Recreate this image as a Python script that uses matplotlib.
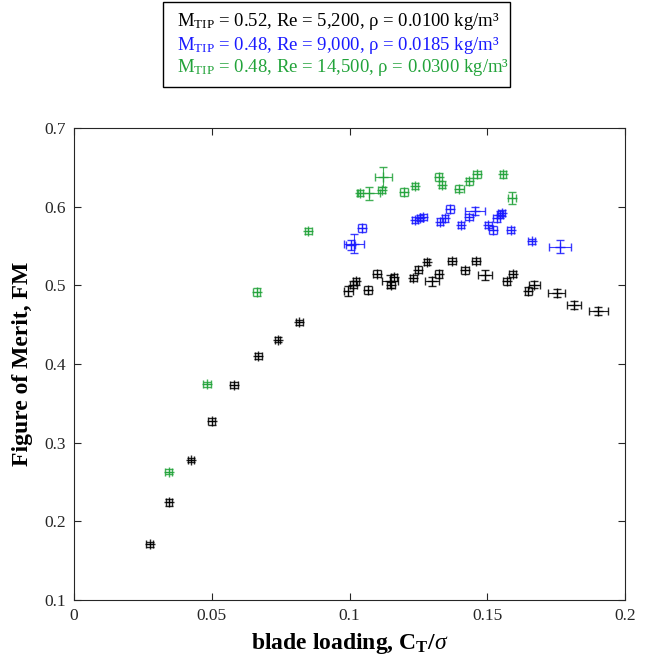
import numpy as np
import matplotlib
matplotlib.use("Agg")
import matplotlib.pyplot as plt
from matplotlib.patches import Rectangle

plt.rcParams['font.family'] = ['Liberation Serif', 'DejaVu Serif']
plt.rcParams['mathtext.fontset'] = 'custom'
plt.rcParams['mathtext.rm'] = 'Liberation Serif'
plt.rcParams['mathtext.it'] = 'Liberation Serif:italic'
plt.rcParams['mathtext.bf'] = 'Liberation Serif:bold'

# M_TIP = 0.52, Re = 5,200
ct_black = [0.0275, 0.0345, 0.0425, 0.0500, 0.0582, 0.0669, 0.0739, 0.0818,
            0.0996, 0.1014, 0.1024, 0.1068, 0.1101, 0.1147, 0.1150, 0.1162,
            0.1232, 0.1250, 0.1280, 0.1300, 0.1323, 0.1373, 0.1419, 0.1458,
            0.1492, 0.1570, 0.1592, 0.1649, 0.1670, 0.1752, 0.1815, 0.1903]
fm_black = [0.171, 0.224, 0.278, 0.327, 0.373, 0.410, 0.431, 0.453,
            0.493, 0.501, 0.505, 0.494, 0.515, 0.505, 0.500, 0.510,
            0.509, 0.520, 0.530, 0.505, 0.514, 0.531, 0.519, 0.531,
            0.513, 0.505, 0.514, 0.493, 0.501, 0.490, 0.475, 0.467]
xerr_black = [0.0012, 0.0012, 0.0012, 0.0012, 0.0015, 0.0012, 0.0010, 0.0012,
              0.0015, 0.0012, 0.0010, 0.0015, 0.0015, 0.0030, 0.0015, 0.0012,
              0.0012, 0.0012, 0.0010, 0.0025, 0.0012, 0.0015, 0.0015, 0.0015,
              0.0025, 0.0012, 0.0012, 0.0012, 0.0020, 0.0030, 0.0025, 0.0035]
yerr_black = [0.003, 0.004, 0.003, 0.004, 0.004, 0.004, 0.003, 0.003,
              0.006, 0.004, 0.004, 0.005, 0.005, 0.008, 0.004, 0.005,
              0.004, 0.004, 0.004, 0.006, 0.005, 0.004, 0.004, 0.004,
              0.006, 0.004, 0.004, 0.005, 0.005, 0.005, 0.005, 0.005]

# M_TIP = 0.48, Re = 9,000
ct_blue = [0.1004, 0.1016, 0.1044, 0.1238, 0.1256, 0.1268, 0.1328, 0.1347,
           0.1365, 0.1404, 0.1435, 0.1456, 0.1504, 0.1522, 0.1534, 0.1546,
           0.1552, 0.1585, 0.1661, 0.1764]
fm_blue = [0.551, 0.553, 0.573, 0.583, 0.586, 0.587, 0.581, 0.585,
           0.597, 0.577, 0.587, 0.594, 0.577, 0.570, 0.585, 0.590,
           0.592, 0.570, 0.556, 0.549]
xerr_blue = [0.0015, 0.0035, 0.0015, 0.0012, 0.0012, 0.0012, 0.0012, 0.0012,
             0.0015, 0.0012, 0.0015, 0.0035, 0.0012, 0.0015, 0.0012, 0.0012,
             0.0012, 0.0012, 0.0012, 0.0040]
yerr_blue = [0.006, 0.012, 0.005, 0.004, 0.004, 0.004, 0.004, 0.004,
             0.005, 0.004, 0.004, 0.005, 0.004, 0.005, 0.004, 0.004,
             0.004, 0.004, 0.003, 0.008]

# M_TIP = 0.48, Re = 14,500
ct_green = [0.0343, 0.0482, 0.0663, 0.0850, 0.1038, 0.1072, 0.1117, 0.1123,
            0.1198, 0.1238, 0.1323, 0.1335, 0.1399, 0.1435, 0.1462, 0.1558,
            0.1589]
fm_green = [0.263, 0.374, 0.492, 0.569, 0.617, 0.617, 0.621, 0.638,
            0.619, 0.626, 0.638, 0.628, 0.623, 0.632, 0.641, 0.641,
            0.611]
xerr_green = [0.0012, 0.0015, 0.0012, 0.0012, 0.0012, 0.0040, 0.0012, 0.0030,
              0.0015, 0.0012, 0.0012, 0.0012, 0.0015, 0.0012, 0.0015, 0.0010,
              0.0015]
yerr_green = [0.003, 0.003, 0.005, 0.004, 0.004, 0.008, 0.004, 0.013,
              0.005, 0.004, 0.005, 0.004, 0.005, 0.004, 0.004, 0.004,
              0.007]

series = [
    (ct_black, fm_black, xerr_black, yerr_black, 'black'),
    (ct_blue, fm_blue, xerr_blue, yerr_blue, '#1a1aff'),
    (ct_green, fm_green, xerr_green, yerr_green, '#22a33a'),
]

fig = plt.figure(figsize=(6.46, 6.69), dpi=100)
ax = fig.add_axes([0.1146, 0.1031, 0.8529, 0.7056])

for ct, fm, xe, ye, col in series:
    ax.errorbar(ct, fm, xerr=xe, yerr=ye, fmt='+', color=col, ecolor=col,
                elinewidth=0.8, capsize=3, capthick=0.8, markersize=7,
                markeredgewidth=1.0, alpha=0.85)

ax.set_xlim(0, 0.2)
ax.set_ylim(0.1, 0.7)
ax.set_xticks([0, 0.05, 0.1, 0.15, 0.2])
ax.set_xticklabels(['0', '0.05', '0.1', '0.15', '0.2'])
ax.set_yticks([0.1, 0.2, 0.3, 0.4, 0.5, 0.6, 0.7])
ax.set_yticklabels(['0.1', '0.2', '0.3', '0.4', '0.5', '0.6', '0.7'])
ax.tick_params(direction='in', top=True, right=True, length=5, width=0.8,
               labelsize=12.5, colors='#262626', pad=6)
for sp in ax.spines.values():
    sp.set_color('#262626')
    sp.set_linewidth(0.8)

ax.set_xlabel(r'blade loading, C$_{\mathbf{T}}$/$\sigma$', fontsize=17,
              fontweight='bold', labelpad=5)
ax.set_ylabel('Figure of Merit, FM', fontsize=17, fontweight='bold', labelpad=8)

# legend-like text box above the axes
fig.patches.append(Rectangle((163 / 646, 1 - 87 / 669), 347 / 646, 85 / 669,
                             transform=fig.transFigure, fill=False,
                             edgecolor='black', linewidth=1.0))
legend_lines = [
    (r'M$_{\mathrm{TIP}}$ = 0.52, Re = 5,200, ρ = 0.0100 kg/m³', 'black', 21),
    (r'M$_{\mathrm{TIP}}$ = 0.48, Re = 9,000, ρ = 0.0185 kg/m³', '#1a1aff', 45),
    (r'M$_{\mathrm{TIP}}$ = 0.48, Re = 14,500, ρ = 0.0300 kg/m³', '#22a33a', 68),
]
for txt, col, ypx in legend_lines:
    fig.text(177 / 646, 1 - ypx / 669, txt, color=col, fontsize=13.5,
             va='center', ha='left')

fig.savefig('out.png', dpi=100)
